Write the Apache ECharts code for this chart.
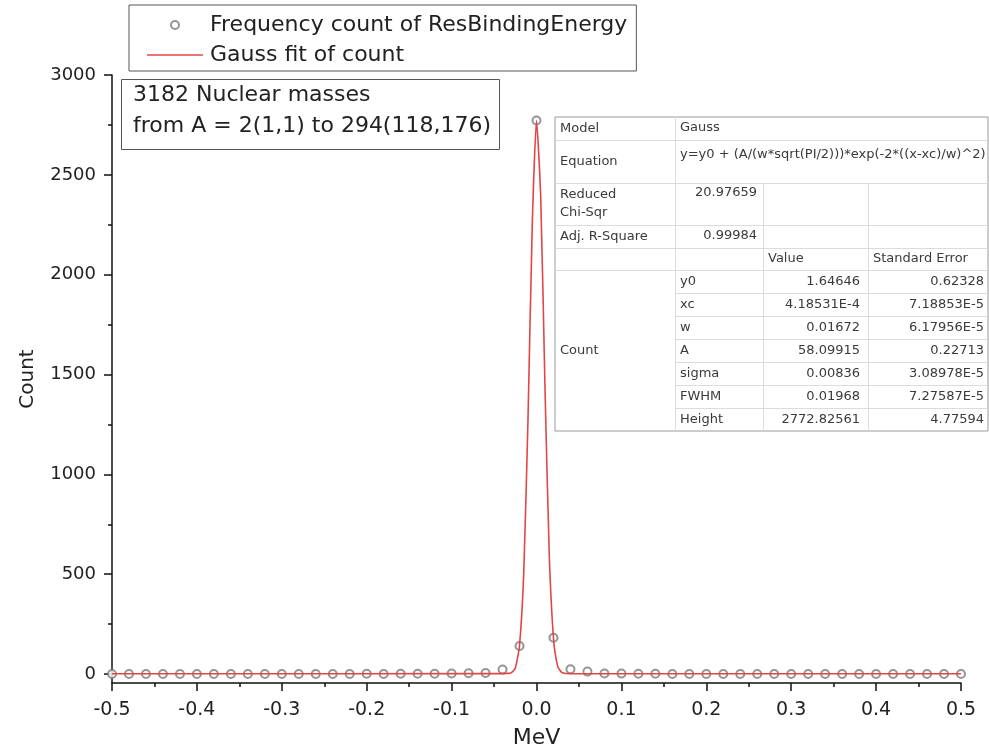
<!DOCTYPE html>
<html><head><meta charset="utf-8">
<script src="https://cdn.jsdelivr.net/npm/echarts@6/dist/echarts.min.js"></script>
<style>html,body{margin:0;padding:0;background:#fff}#c{width:989px;height:756px}</style>
</head><body><div id="c"></div>
<script>
// ---- data ----
const binCenters = [-0.5,-0.48,-0.46,-0.44,-0.42,-0.4,-0.38,-0.36,-0.34,-0.32,-0.3,-0.28,-0.26,-0.24,-0.22,-0.2,-0.18,-0.16,-0.14,-0.12,-0.1,-0.08,-0.06,-0.04,-0.02,0,0.02,0.04,0.06,0.08,0.1,0.12,0.14,0.16,0.18,0.2,0.22,0.24,0.26,0.28,0.3,0.32,0.34,0.36,0.38,0.4,0.42,0.44,0.46,0.48,0.5];
const counts =     [0,0,0,0,0,0,0,0,0,0,0,0,0,0,0,1,0,1,1,1,3,4,5,23,140,2772,182,24,12,3,2,1,1,0,0,0,0,0,0,0,0,0,0,0,0,0,0,0,0,0,0];
const fitX = [-0.5,-0.04,-0.035,-0.03,-0.025,-0.02,-0.015,-0.01,-0.005,0,0.005,0.01,0.015,0.02,0.025,0.03,0.035,0.04,0.5];
const fitY = [1.6,1.8,3,6,29,143,509,1280,2247,2772,2385,1434,604,180,38,7,2.5,1.7,1.6];
const yTickValues = [0,500,1000,1500,2000,2500,3000];
const yMinorTickValues = [250,750,1250,1750,2250,2750];
const legendNames = ['Frequency count of ResBindingEnergy','Gauss fit of count'];
const noteLines = ['3182 Nuclear masses','from A = 2(1,1) to 294(118,176)'];
const modelName = 'Gauss';
const equationText = 'y=y0 + (A/(w*sqrt(PI/2)))*exp(-2*((x-xc)/w)^2)';
const redChiSqr = '20.97659';
const adjRSquare = '0.99984';
const tableParams = ['y0','xc','w','A','sigma','FWHM','Height'];
const tableValues = ['1.64646','4.18531E-4','0.01672','58.09915','0.00836','0.01968','2772.82561'];
const tableErrors = ['0.62328','7.18853E-5','6.17956E-5','0.22713','3.08978E-5','7.27587E-5','4.77594'];

const FONT = 'DejaVu Sans';
const chart = echarts.init(document.getElementById('c'));

// ---- table graphic ----
const C = [555, 675, 763, 868, 988];
const R = [117, 140, 183, 225, 248, 270];
const PH = 23;
const tEnd = R[5] + PH * tableParams.length;
const gridColor = '#dcdcdc';
const els = [];
els.push({type:'rect', shape:{x:C[0], y:R[0], width:C[4]-C[0], height:tEnd-R[0]}, style:{fill:'#fff', stroke:'#9a9a9a', lineWidth:1}, z:10});
function hline(y,x1,x2){els.push({type:'line', shape:{x1:x1,y1:y,x2:x2,y2:y}, style:{stroke:gridColor,lineWidth:1}, z:11});}
function vline(x,y1,y2){els.push({type:'line', shape:{x1:x,y1:y1,x2:x,y2:y2}, style:{stroke:gridColor,lineWidth:1}, z:11});}
for (let i=1;i<R.length;i++) hline(R[i]+0.5, C[0], C[4]);
for (let k=1;k<tableParams.length;k++) hline(R[5]+PH*k+0.5, C[1], C[4]);
vline(C[1]+0.5, R[0], tEnd);
vline(C[2]+0.5, R[2], tEnd);
vline(C[3]+0.5, R[2], tEnd);
function txt(s,x,y,align){els.push({type:'text', x:x, y:y, style:{text:s, fill:'#3a3a3a', font:'13px "'+FONT+'"', align:align||'left', verticalAlign:'middle'}, z:12});}
txt('Model', 560, 129);
txt(modelName, 680, 128);
txt('Equation', 560, 162);
txt(equationText, 680, 155);
txt('Reduced', 560, 195);
txt('Chi-Sqr', 560, 213);
txt(redChiSqr, 757, 193, 'right');
txt('Adj. R-Square', 560, 237);
txt(adjRSquare, 757, 236, 'right');
txt('Value', 768, 259);
txt('Standard Error', 873, 259);
txt('Count', 560, (R[5]+tEnd)/2);
tableParams.forEach((p,k)=>{
  const y = R[5] + PH*k + PH/2;
  txt(p, 680, y);
  txt(tableValues[k], 860, y, 'right');
  txt(tableErrors[k], 984, y, 'right');
});
// ---- note box ----
els.push({type:'rect', shape:{x:121.5, y:79.5, width:378, height:70}, style:{fill:'#fff', stroke:'#555', lineWidth:1}, z:10});
noteLines.forEach((s,i)=>{
  els.push({type:'text', x:133, y:95+31*i, style:{text:s, fill:'#222', font:'22px "'+FONT+'"', verticalAlign:'middle'}, z:12});
});

const lineIcon = 'path://M0,3.2 H56 V4.8 H0 Z M0,0 H0.01 V8 H0 Z';
const option = {
  animation:false,
  backgroundColor:'#fff',
  textStyle:{fontFamily:FONT},
  grid:{left:112, right:28, top:75, bottom:73, containLabel:false},
  legend:{
    orient:'vertical', left:129, top:5,
    padding:[9,9,5,18], itemWidth:56, itemHeight:8, itemGap:8,
    borderColor:'#555', borderWidth:1, backgroundColor:'#fff',
    textStyle:{fontSize:22, fontFamily:FONT, color:'#222', lineHeight:22, padding:[0,0,0,2]},
    data:[{name:legendNames[0]}, {name:legendNames[1], icon:lineIcon}]
  },
  xAxis:{
    type:'value', min:-0.5, max:0.5, interval:0.1,
    name:'MeV', nameLocation:'middle', nameGap:44,
    nameTextStyle:{fontSize:22, color:'#222', fontFamily:FONT},
    axisLine:{show:true, onZero:false, lineStyle:{color:'#111', width:1.5}},
    axisTick:{show:true, inside:false, length:8, lineStyle:{color:'#111', width:1.5}},
    minorTick:{show:true, splitNumber:2, length:4, lineStyle:{color:'#111', width:1.5}},
    splitLine:{show:false},
    axisLabel:{fontSize:19, color:'#222', margin:18, fontFamily:FONT, formatter:v=>v.toFixed(1)}
  },
  yAxis:[{
    type:'value', min:-45, max:3000,
    name:'Count', nameLocation:'middle', nameGap:74, nameRotate:90,
    nameTextStyle:{fontSize:20, color:'#222', fontFamily:FONT},
    axisLine:{show:true, onZero:false, lineStyle:{color:'#111', width:1.5}},
    axisTick:{show:true, inside:false, length:8, customValues:yTickValues, lineStyle:{color:'#111', width:1.5}},
    axisLabel:{fontSize:18, color:'#222', margin:16, fontFamily:FONT, customValues:yTickValues, formatter:v=>String(Math.round(v))},
    splitLine:{show:false}
  },{
    type:'value', min:-45, max:3000, position:'left',
    axisLine:{show:false, onZero:false},
    axisTick:{show:true, inside:false, length:4, customValues:yMinorTickValues, lineStyle:{color:'#111', width:1.5}},
    axisLabel:{show:false},
    splitLine:{show:false}
  }],
  series:[{
    name:legendNames[0], type:'scatter', yAxisIndex:0,
    symbol:'emptyCircle', symbolSize:8,
    itemStyle:{color:'#7a7a7a', borderWidth:1},
    data:binCenters.map((x,i)=>[x,counts[i]]), z:2
  },{
    name:legendNames[1], type:'line', yAxisIndex:0,
    showSymbol:false, symbol:'none', smooth:0.2,
    lineStyle:{color:'#e34545', width:1.6},
    itemStyle:{color:'#e34545'},
    data:fitX.map((x,i)=>[x,fitY[i]]), z:3
  }],
  graphic:els
};
chart.setOption(option);
</script></body></html>
